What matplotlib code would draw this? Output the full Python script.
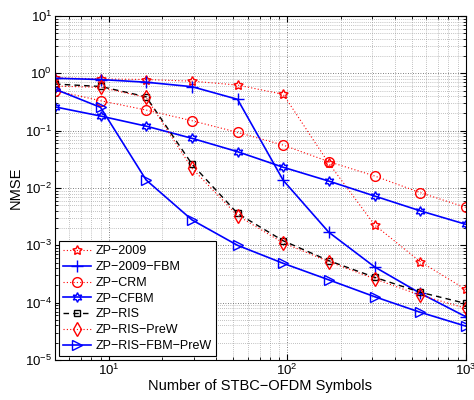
import matplotlib
matplotlib.use("Agg")
import matplotlib.pyplot as plt
from matplotlib.ticker import LogLocator, NullFormatter

plt.rcParams['font.family'] = ['Liberation Sans', 'DejaVu Sans']
plt.rcParams['mathtext.fontset'] = 'custom'
plt.rcParams['mathtext.rm'] = 'Liberation Sans'
plt.rcParams['mathtext.it'] = 'Liberation Sans:italic'

symbols = [5, 9, 16.2, 29.3, 52.7, 95, 171, 309, 556, 1000]

zp2009 = [0.84, 0.80, 0.78, 0.73, 0.625, 0.43, 0.027, 0.00226, 5.2e-4, 1.7e-4]
zp2009_fbm = [0.82, 0.78, 0.70, 0.585, 0.352, 0.0136, 1.69e-3, 4.2e-4, 1.46e-4, 5.7e-5]
zp_crm = [0.50, 0.333, 0.229, 0.149, 0.0935, 0.056, 0.0288, 0.0162, 0.0083, 0.0046]
zp_cfbm = [0.26, 0.18, 0.12, 0.0735, 0.043, 0.023, 0.0132, 0.00724, 0.0040, 0.00233]
zp_ris = [0.65, 0.59, 0.39, 0.026, 0.0036, 0.0012, 5.4e-4, 2.77e-4, 1.52e-4, 9.7e-5]
zp_ris_prew = [0.60, 0.57, 0.38, 0.022, 0.0033, 0.0011, 5.2e-4, 2.6e-4, 1.35e-4, 8.0e-5]
zp_ris_fbm_prew = [0.53, 0.255, 0.0138, 0.00277, 0.0010, 4.85e-4, 2.5e-4, 1.27e-4, 6.8e-5, 3.9e-5]

labels = ['ZP\u22122009', 'ZP\u22122009\u2212FBM', 'ZP\u2212CRM', 'ZP\u2212CFBM',
          'ZP\u2212RIS', 'ZP\u2212RIS\u2212PreW', 'ZP\u2212RIS\u2212FBM\u2212PreW']

fig = plt.figure(figsize=(4.74, 4.0), dpi=100)
ax = fig.add_axes([0.116, 0.10, 0.8665, 0.86])

dot = (0, (1, 2))
ms = 7
common = dict(markerfacecolor='none', markersize=ms, markeredgewidth=1.0)

ax.plot(symbols, zp2009, color='red', linestyle=dot, linewidth=0.8, marker=(5, 1, 0),
        label=labels[0], **common)
ax.plot(symbols, zp2009_fbm, color='blue', linestyle='-', linewidth=1.2, marker='+',
        label=labels[1], markersize=8, markeredgewidth=1.0)
ax.plot(symbols, zp_crm, color='red', linestyle=dot, linewidth=0.8, marker='o',
        label=labels[2], **common)
ax.plot(symbols, zp_cfbm, color='blue', linestyle='-', linewidth=1.2, marker=(6, 1, 0),
        label=labels[3], **common)
ax.plot(symbols, zp_ris, color='black', linestyle=(0, (4, 3)), linewidth=1.0, marker='s',
        label=labels[4], markerfacecolor='none', markersize=5, markeredgewidth=1.0)
ax.plot(symbols, zp_ris_prew, color='red', linestyle=dot, linewidth=0.8, marker='d',
        label=labels[5], **common)
ax.plot(symbols, zp_ris_fbm_prew, color='blue', linestyle='-', linewidth=1.2, marker='>',
        label=labels[6], **common)

ax.set_xscale('log')
ax.set_yscale('log')
ax.set_xlim(5, 1000)
ax.set_ylim(1e-5, 10)

ax.xaxis.set_major_locator(LogLocator(base=10, numticks=10))
ax.yaxis.set_major_locator(LogLocator(base=10, numticks=10))
ax.xaxis.set_minor_locator(LogLocator(base=10, subs=range(2, 10), numticks=20))
ax.yaxis.set_minor_locator(LogLocator(base=10, subs=range(2, 10), numticks=20))
ax.xaxis.set_minor_formatter(NullFormatter())
ax.yaxis.set_minor_formatter(NullFormatter())

ax.grid(True, which='major', linestyle=(0, (1, 2)), color='#555555', linewidth=0.6)
ax.grid(True, which='minor', linestyle=(0, (1, 2)), color='#888888', linewidth=0.5)
ax.set_axisbelow(True)

ax.tick_params(which='both', direction='in', top=True, right=True, labelsize=9.5)
ax.tick_params(which='major', length=4, pad=2)
ax.tick_params(which='minor', length=2)
for s in ax.spines.values():
    s.set_linewidth(0.8)

ax.set_xlabel('Number of STBC\u2212OFDM Symbols', fontsize=10.5, labelpad=1)
ax.set_ylabel('NMSE', fontsize=10.5, labelpad=2)

leg = ax.legend(loc='lower left', fontsize=9, handlelength=2.2, borderaxespad=0.3,
                fancybox=False, framealpha=1, edgecolor='black', labelspacing=0.3,
                borderpad=0.35, handletextpad=0.4)
leg.get_frame().set_linewidth(0.8)

fig.savefig('out.png', dpi=100)
